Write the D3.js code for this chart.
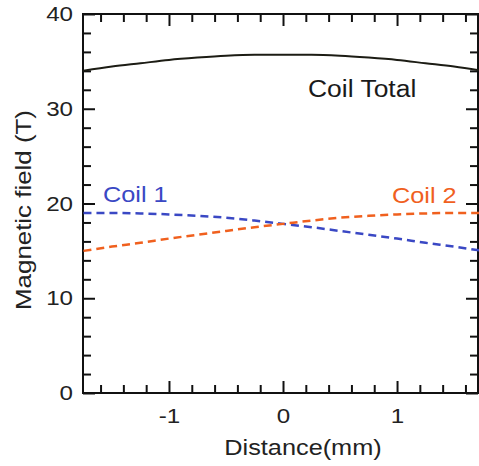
<!DOCTYPE html>
<html><head><meta charset="utf-8">
<script src="https://cdn.jsdelivr.net/npm/d3@7"></script>
<style>body{margin:0;background:#fff}svg{display:block}text{font-family:"Liberation Sans",Arial,sans-serif}</style>
</head><body>
<script>
const distance = [-1.75,-1.5,-1.25,-1,-0.75,-0.5,-0.25,0,0.25,0.5,0.75,1,1.25,1.5,1.75];
const coil1 = [19.0,19.0,18.95,18.85,18.7,18.5,18.2,17.85,17.5,17.1,16.7,16.3,15.85,15.45,15.0];
const coil2 = [15.0,15.45,15.85,16.3,16.7,17.1,17.5,17.85,18.2,18.5,18.7,18.85,18.95,19.0,19.0];
const coilTotal = [34.0,34.45,34.8,35.15,35.4,35.6,35.7,35.7,35.7,35.6,35.4,35.15,34.8,34.45,34.0];
const xMajor = [-1,0,1];
const yMajor = [0,10,20,30,40];

const W=479,H=466;
const m={l:83,r:1,t:14,b:73};
const K=1.15;
const svg=d3.select("body").append("svg").attr("width",W).attr("height",H);
const x=d3.scaleLinear().domain([-1.754,1.71]).range([m.l,W-m.r]);
const y=d3.scaleLinear().domain([0,40]).range([H-m.b,m.t]);
const g=svg.append("g");

function stretch(sel){ sel.each(function(){ const l=this.getComputedTextLength();
  d3.select(this).attr("textLength",l*K).attr("lengthAdjust","spacingAndGlyphs"); }); return sel; }

const xMinor=d3.range(-1.6,1.61,0.2).map(v=>+v.toFixed(2)).filter(v=>Math.abs(v-Math.round(v))>1e-6);
const yMinor=d3.range(2,40,2).filter(v=>v%10!==0);

function axisG(axis,tr){ const a=g.append("g").attr("transform",tr).call(axis);
  a.select(".domain").remove(); a.selectAll("line").attr("stroke","#111").attr("stroke-width",2);
  a.selectAll("text").attr("fill","#222"); return a;}
const fmt=d=>String(d).replace("\u2212","-");
// bottom
stretch(axisG(d3.axisBottom(x).tickValues(xMajor).tickSize(-12).tickPadding(15).tickFormat(fmt),`translate(0,${y(0)})`).selectAll("text").style("font-size","21px"));
axisG(d3.axisBottom(x).tickValues(xMinor).tickSize(-8).tickFormat(""),`translate(0,${y(0)})`);
// top
axisG(d3.axisTop(x).tickValues(xMajor).tickSize(-12).tickFormat(""),`translate(0,${y(40)})`);
axisG(d3.axisTop(x).tickValues(xMinor).tickSize(-8).tickFormat(""),`translate(0,${y(40)})`);
// left
stretch(axisG(d3.axisLeft(y).tickValues(yMajor).tickSize(-12).tickPadding(10).tickFormat(fmt),`translate(${m.l},0)`).selectAll("text").style("font-size","21px"));
axisG(d3.axisLeft(y).tickValues(yMinor).tickSize(-8).tickFormat(""),`translate(${m.l},0)`);
// right
axisG(d3.axisRight(y).tickValues(yMajor).tickSize(-12).tickFormat(""),`translate(${W-m.r},0)`);
axisG(d3.axisRight(y).tickValues(yMinor).tickSize(-8).tickFormat(""),`translate(${W-m.r},0)`);

g.append("rect").attr("x",m.l).attr("y",m.t).attr("width",W-m.r-m.l).attr("height",y(0)-m.t)
 .attr("fill","none").attr("stroke","#111").attr("stroke-width",2);

const line=d3.line().x((d,i)=>x(distance[i])).y(d=>y(d)).curve(d3.curveMonotoneX);
g.append("path").datum(coilTotal).attr("d",line).attr("fill","none").attr("stroke","#1c1c14").attr("stroke-width",2);
g.append("path").datum(coil1).attr("d",line).attr("fill","none").attr("stroke","#3a48c4").attr("stroke-width",2.5).attr("stroke-dasharray","8,5");
g.append("path").datum(coil2).attr("d",line).attr("fill","none").attr("stroke","#f0601e").attr("stroke-width",2.5).attr("stroke-dasharray","8,5");

stretch(svg.append("text").attr("x",308).attr("y",97).attr("font-size","23px").attr("fill","#1a1a1a").text("Coil Total"));
stretch(svg.append("text").attr("x",103).attr("y",202).attr("font-size","22px").attr("fill","#3a48c4").text("Coil 1"));
stretch(svg.append("text").attr("x",392).attr("y",203).attr("font-size","22px").attr("fill","#f0601e").text("Coil 2"));
stretch(svg.append("text").attr("x",303).attr("y",455).attr("text-anchor","middle").attr("font-size","22px").attr("fill","#222").text("Distance(mm)"));
stretch(svg.append("text").attr("transform","translate(31,210) rotate(-90)").attr("text-anchor","middle").attr("font-size","22.5px").attr("fill","#222").text("Magnetic field (T)"));
</script>
</body></html>
